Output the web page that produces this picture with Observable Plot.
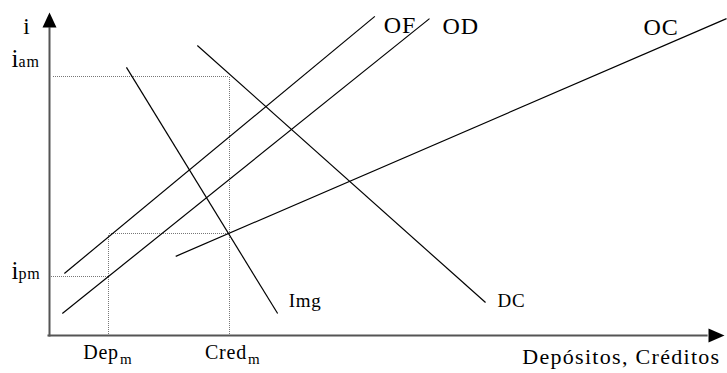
<!DOCTYPE html>
<html><head><meta charset="utf-8">
<script src="https://cdn.jsdelivr.net/npm/d3@7"></script>
<script src="https://cdn.jsdelivr.net/npm/@observablehq/plot@0.6"></script>
<style>body{margin:0;background:#fff} svg text{font-family:'Liberation Serif','Times New Roman',serif !important}</style>
</head><body><div id="chart"></div>
<script>
// Curves (interest rate i vs. Depósitos/Créditos), endpoints in chart units (0-100)
const curveNames = ["OF", "OD", "OC", "Img", "DC"];
const curveX1 = [2.2, 1.9, 18.7, 11.4, 21.9];
const curveY1 = [19.2, 6.8, 24.5, 83.0, 89.8];
const curveX2 = [48.2, 56.3, 100.3, 33.8, 64.6];
const curveY2 = [98.8, 98.1, 98.1, 6.8, 10.2];

// Equilibrium values
const iam = 80.2, ipm = 18.4, iMid = 31.5, depM = 8.8, credM = 26.6;

// Tick / axis labels
const yTitle = "i";
const xTitle = "Depósitos, Créditos";
const yTickMain = ["i", "i"];
const yTickSub = ["am", "pm"];
const yTickVals = [iam, ipm];
const xTickMain = ["Dep", "Cred"];
const xTickSub = ["m", "m"];
const xTickVals = [depM, credM];

const xMax = 100, yMax = 100;

const curves = curveNames.map((n, i) => ({name: n, x1: curveX1[i], y1: curveY1[i], x2: curveX2[i], y2: curveY2[i]}));
const guides = [
  {x1: 0.5, y1: iam, x2: credM, y2: iam},
  {x1: credM, y1: 0, x2: credM, y2: iam},
  {x1: 0.2, y1: ipm, x2: depM, y2: ipm},
  {x1: depM, y1: 0, x2: depM, y2: iMid},
  {x1: depM, y1: iMid, x2: credM, y2: iMid}
];
const axes = [
  {x1: 0, y1: -0.3, x2: 0, y2: yMax - 4.6},
  {x1: -0.3, y1: 0, x2: xMax - 2.5, y2: 0}
];
const arrowUp = {draw(ctx) { ctx.moveTo(0, 0); ctx.lineTo(7, 15); ctx.lineTo(-7, 15); ctx.closePath(); }};
const arrowRight = {draw(ctx) { ctx.moveTo(0, 0); ctx.lineTo(-16, 7); ctx.lineTo(-16, -7); ctx.closePath(); }};

const font = "Liberation Serif";
const byName = Object.fromEntries(curves.map(c => [c.name, c]));
function curveLabel(name, dx, dy, size) {
  const c = byName[name];
  return Plot.text([c], {x: "x2", y: "y2", text: "name", dx, dy, textAnchor: "start", lineAnchor: "bottom", fontSize: size, fontFamily: font, fill: "black"});
}
function label(text, x, y, opts) {
  return Plot.text([text], {x: () => x, y: () => y, text: d => d, lineAnchor: "bottom", fontFamily: font, fill: "black", ...opts});
}

const chart = Plot.plot({
  width: 727, height: 373,
  marginTop: 0, marginRight: 0, marginBottom: 0, marginLeft: 0,
  x: {domain: [0, xMax], range: [49, 724], axis: null},
  y: {domain: [0, yMax], range: [335, 12], axis: null},
  style: {fontFamily: font, background: "white", overflow: "visible"},
  marks: [
    Plot.link(guides, {x1: "x1", y1: "y1", x2: "x2", y2: "y2", stroke: "#777", strokeWidth: 1, strokeDasharray: "1,1", shapeRendering: "crispEdges"}),
    Plot.link(axes, {x1: "x1", y1: "y1", x2: "x2", y2: "y2", stroke: "#555", strokeWidth: 2}),
    Plot.dot([{x: 0, y: yMax}], {x: "x", y: "y", symbol: arrowUp, fill: "black", stroke: "none"}),
    Plot.dot([{x: xMax, y: 0}], {x: "x", y: "y", symbol: arrowRight, fill: "black", stroke: "none"}),
    Plot.link(curves, {x1: "x1", y1: "y1", x2: "x2", y2: "y2", stroke: "black", strokeWidth: 1.2}),
    curveLabel("OF", 9, 17, 24),
    curveLabel("OD", 13, 15, 24),
    curveLabel("OC", -83, 16, 24),
    curveLabel("Img", 11, -7, 19),
    curveLabel("DC", 12, 4, 19),
    // axis titles
    label(yTitle, 0, yMax, {dx: -23, dy: 21, textAnchor: "middle", fontSize: 23}),
    label(xTitle, xMax, 0, {dx: -4, dy: 28, textAnchor: "end", fontSize: 22}),
    // y tick labels
    label(yTickMain[0], 0, yTickVals[0], {dx: -31, dy: -9, textAnchor: "end", fontSize: 25}),
    label(yTickSub[0], 0, yTickVals[0], {dx: -31, dy: -9, textAnchor: "start", fontSize: 16}),
    label(yTickMain[1], 0, yTickVals[1], {dx: -31, dy: 3, textAnchor: "end", fontSize: 25}),
    label(yTickSub[1], 0, yTickVals[1], {dx: -31, dy: 3, textAnchor: "start", fontSize: 16}),
    // x tick labels
    label(xTickMain[0], xTickVals[0], 0, {dx: 10, dy: 23, textAnchor: "end", fontSize: 20}),
    label(xTickSub[0], xTickVals[0], 0, {dx: 11, dy: 28, textAnchor: "start", fontSize: 15}),
    label(xTickMain[1], xTickVals[1], 0, {dx: 18, dy: 23, textAnchor: "end", fontSize: 20}),
    label(xTickSub[1], xTickVals[1], 0, {dx: 19, dy: 28, textAnchor: "start", fontSize: 15})
  ]
});
document.getElementById("chart").appendChild(chart);
// widen the serif lettering a little, like the reference typeface
d3.select(chart).selectAll("text").each(function() {
  const t = this.textContent;
  const ls = t === xTitle ? 1.3 : (t.length > 1 ? 0.8 : 0);
  if (ls) this.style.letterSpacing = ls + "px";
});
</script>
</body></html>
